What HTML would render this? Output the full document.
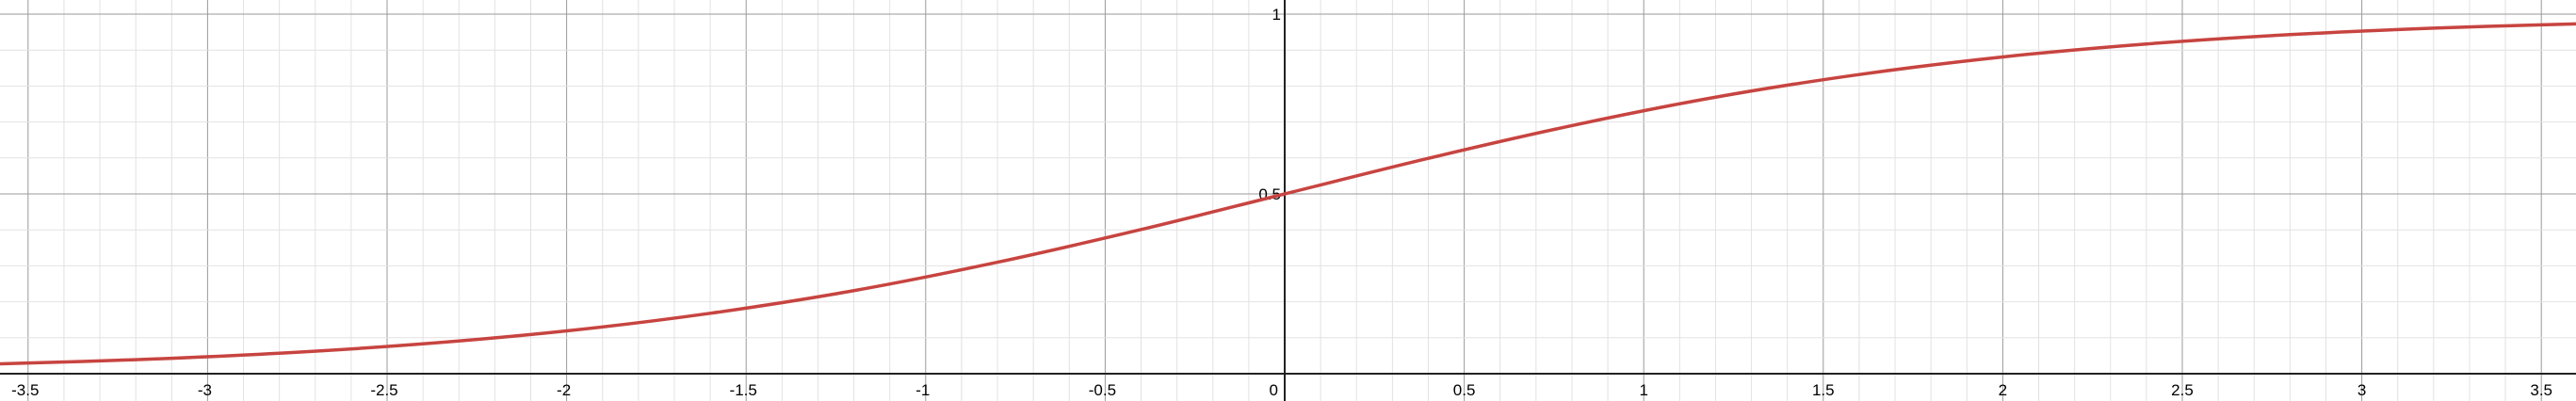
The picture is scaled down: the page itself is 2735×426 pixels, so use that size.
<!DOCTYPE html>
<html><head><meta charset="utf-8"><style>
html,body{margin:0;padding:0;background:#fff;width:2735px;height:426px;overflow:hidden}
svg text{font-family:"Liberation Sans",Arial,sans-serif;font-size:17px;fill:#000}
</style></head><body>
<svg id="chart" width="2735" height="426" xmlns="http://www.w3.org/2000/svg">
<g id="grid"></g>
<g id="axes"></g>
<g id="labels"></g>
<path id="curve" fill="none" stroke="#c74440" stroke-width="3.5"/>
</svg>
<script>
const xTicks=[-3.5,-3,-2.5,-2,-1.5,-1,-0.5,0.5,1,1.5,2,2.5,3,3.5];
const xTickLabels=["-3.5","-3","-2.5","-2","-1.5","-1","-0.5","0.5","1","1.5","2","2.5","3","3.5"];
const yTicks=[0.5,1];
const yTickLabels=["0.5","1"];
const curveX=[-3.6,-3.2,-2.8,-2.4,-2,-1.6,-1.2,-0.8,-0.4,0,0.4,0.8,1.2,1.6,2,2.4,2.8,3.2,3.6];
const curveY=[0.027,0.039,0.057,0.083,0.119,0.168,0.231,0.310,0.401,0.5,0.599,0.690,0.769,0.832,0.881,0.917,0.943,0.961,0.973];
const X0=1364,XS=381.2,Y0=397,YS=382;
const sx=v=>X0+v*XS, sy=v=>Y0-v*YS;
const NS="http://www.w3.org/2000/svg";
function mk(tag,parent,attrs){const e=document.createElementNS(NS,tag);for(const k in attrs)e.setAttribute(k,attrs[k]);parent.appendChild(e);return e;}
const grid=document.getElementById('grid');
for(let i=-40;i<=40;i++){const x=sx(i/10);if(x<-1||x>2736)continue;
 const l=mk('line',grid,{x1:x,x2:x,y1:0,y2:426,stroke:i%5==0?'#9a9a9a':'#e2e2e2','stroke-width':1});
 
 }
for(let i=-1;i<=11;i++){const y=sy(i/10);if(y<-1||y>427)continue;
 const l=mk('line',grid,{x1:0,x2:2735,y1:y,y2:y,stroke:i%5==0?'#9a9a9a':'#e2e2e2','stroke-width':1});
 
 }
const axes=document.getElementById('axes');
const xa=mk('line',axes,{x1:0,x2:2735,y1:Y0,y2:Y0,stroke:'#222','stroke-width':2});


const ya=mk('line',axes,{x1:X0,x2:X0,y1:0,y2:426,stroke:'#222','stroke-width':2});


const lab=document.getElementById('labels');
xTicks.forEach((v,i)=>{const t=mk('text',lab,{x:sx(v)-(v<0?3:0),y:420,'text-anchor':'middle'});t.textContent=xTickLabels[i];
 
 });
const z=mk('text',lab,{x:X0-7,y:420,'text-anchor':'end'});z.textContent='0';


yTicks.forEach((v,i)=>{const t=mk('text',lab,{x:X0-4,y:sy(v)+6,'text-anchor':'end'});t.textContent=yTickLabels[i];
 
 });
// smooth curve through points (Catmull-Rom)
const P=curveX.map((v,i)=>[sx(v),sy(curveY[i])]);
let d='M'+P[0][0]+','+P[0][1];
for(let i=0;i<P.length-1;i++){const p0=P[i-1]||P[i],p1=P[i],p2=P[i+1],p3=P[i+2]||P[i+1];
 d+=' C'+(p1[0]+(p2[0]-p0[0])/6)+','+(p1[1]+(p2[1]-p0[1])/6)+' '+(p2[0]-(p3[0]-p1[0])/6)+','+(p2[1]-(p3[1]-p1[1])/6)+' '+p2[0]+','+p2[1];}
document.getElementById('curve').setAttribute('d',d);
</script>
</body></html>
